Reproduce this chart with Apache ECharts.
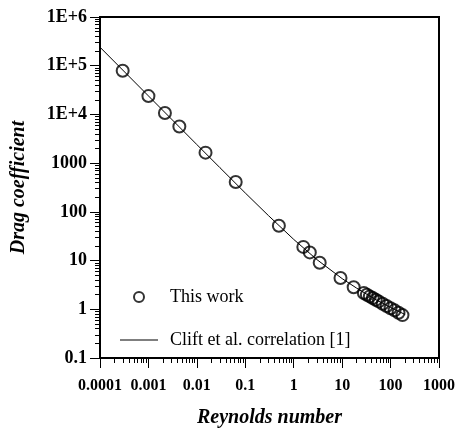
<!DOCTYPE html>
<html><head><meta charset="utf-8">
<script src="https://cdn.jsdelivr.net/npm/echarts@6/dist/echarts.min.js"></script>
<style>html,body{margin:0;padding:0;background:#fff}#c{width:458px;height:433px}</style>
</head><body><div id="c"></div>
<script>
// Measured points ("This work")
const reynoldsMeasured = [0.000294, 0.001, 0.00219, 0.00435, 0.0151, 0.0634, 0.494, 1.58, 2.15, 3.44, 9.25, 17.3,
  28.1, 32.4, 37.3, 42.9, 49.4, 56.9, 68.7, 82.8, 100, 121, 146, 176];
const dragMeasured = [79000, 23800, 10700, 5670, 1644, 410, 52, 19.1, 14.7, 9.0, 4.4, 2.84,
  2.16, 1.99, 1.84, 1.70, 1.57, 1.45, 1.30, 1.17, 1.05, 0.95, 0.85, 0.76];
// Clift et al. correlation curve
const reynoldsClift = [0.0001, 0.001, 0.01, 0.03, 0.1, 0.3, 1, 3, 10, 20, 50, 100, 200];
const dragClift = [240000, 24000, 2405, 806, 244, 84, 27.2, 10.5, 4.26, 2.71, 1.57, 1.09, 0.78];
// Tick labels
const xTickValues = [0.0001, 0.001, 0.01, 0.1, 1, 10, 100, 1000];
const xTickLabels = ['0.0001', '0.001', '0.01', '0.1', '1', '10', '100', '1000'];
const yTickValues = [0.1, 1, 10, 100, 1000, 10000, 100000, 1000000];
const yTickLabels = ['0.1', '1', '10', '100', '1000', '1E+4', '1E+5', '1E+6'];
const seriesNames = ['This work', 'Clift et al. correlation [1]'];

function labelFor(values, labels) {
  return function (v) {
    const lv = Math.log10(v);
    for (let i = 0; i < values.length; i++) {
      if (Math.abs(Math.log10(values[i]) - lv) < 1e-6) return labels[i];
    }
    return '';
  };
}
// minor tick positions (2..9 within each decade), expressed as decade exponents
function minorTickExponents(values) {
  const out = [];
  for (let i = 0; i < values.length - 1; i++) {
    for (let k = 2; k <= 9; k++) out.push(Math.log10(values[i] * k));
  }
  return out;
}

const serif = 'Liberation Serif, Times New Roman, serif';
const xMin = xTickValues[0], xMax = xTickValues[xTickValues.length - 1];
const yMin = yTickValues[0], yMax = yTickValues[yTickValues.length - 1];

const chart = echarts.init(document.getElementById('c'), null, { renderer: 'canvas' });
chart.setOption({
  animation: false,
  backgroundColor: '#fff',
  grid: { left: 100, right: 15, top: 17, bottom: 72, show: true, borderColor: '#000', borderWidth: 2, backgroundColor: 'transparent' },
  legend: {
    orient: 'vertical', left: 120, top: 288, padding: 0,
    itemWidth: 38, itemHeight: 10, itemGap: 25, selectedMode: false,
    data: [{ name: seriesNames[0] }, { name: seriesNames[1], icon: 'path://M0,0H38V1H0Z', itemStyle: { color: '#000', opacity: 1 } }],
    textStyle: { fontFamily: serif, fontSize: 18, color: '#000', lineHeight: 18, padding: [0, 0, 0, 7] }
  },
  xAxis: [{
    type: 'log', logBase: 10, min: xMin, max: xMax, position: 'bottom',
    name: 'Reynolds number', nameLocation: 'middle', nameGap: 50,
    nameTextStyle: { fontFamily: serif, fontSize: 20, fontStyle: 'italic', fontWeight: 'bold', color: '#000' },
    axisLine: { show: true, onZero: false, lineStyle: { color: '#000', width: 2 } },
    axisTick: { show: true, inside: false, length: 10, lineStyle: { color: '#000', width: 1 } },
    axisLabel: { formatter: labelFor(xTickValues, xTickLabels), margin: 20, color: '#000', fontFamily: serif, fontWeight: 'bold', fontSize: 16, showMinLabel: true, showMaxLabel: true },
    splitLine: { show: false }
  }, {
    type: 'value', min: Math.log10(xMin), max: Math.log10(xMax), position: 'bottom',
    axisLine: { show: false, onZero: false }, axisLabel: { show: false }, splitLine: { show: false },
    axisTick: { show: true, inside: false, length: 5, customValues: minorTickExponents(xTickValues), lineStyle: { color: '#000', width: 1 } }
  }],
  yAxis: [{
    type: 'log', logBase: 10, min: yMin, max: yMax, position: 'left',
    name: 'Drag coefficient', nameLocation: 'middle', nameGap: 71,
    nameTextStyle: { fontFamily: serif, fontSize: 20, fontStyle: 'italic', fontWeight: 'bold', color: '#000' },
    axisLine: { show: true, onZero: false, lineStyle: { color: '#000', width: 2 } },
    axisTick: { show: true, inside: false, length: 10, lineStyle: { color: '#000', width: 1 } },
    axisLabel: { formatter: labelFor(yTickValues, yTickLabels), margin: 13, color: '#000', fontFamily: serif, fontWeight: 'bold', fontSize: 18, showMinLabel: true, showMaxLabel: true },
    splitLine: { show: false }
  }, {
    type: 'value', min: Math.log10(yMin), max: Math.log10(yMax), position: 'left',
    axisLine: { show: false, onZero: false }, axisLabel: { show: false }, splitLine: { show: false },
    axisTick: { show: true, inside: false, length: 5, customValues: minorTickExponents(yTickValues), lineStyle: { color: '#000', width: 1 } }
  }],
  series: [{
    name: seriesNames[0], type: 'scatter', xAxisIndex: 0, yAxisIndex: 0,
    data: reynoldsMeasured.map((x, i) => [x, dragMeasured[i]]),
    symbol: 'circle', symbolSize: 12, z: 3,
    itemStyle: { color: 'rgba(0,0,0,0)', borderColor: '#000', borderWidth: 2 },
    emphasis: { disabled: true }
  }, {
    name: seriesNames[1], type: 'line', xAxisIndex: 0, yAxisIndex: 0,
    data: reynoldsClift.map((x, i) => [x, dragClift[i]]),
    symbol: 'none', showSymbol: false, z: 2,
    lineStyle: { color: '#000', width: 1 }, itemStyle: { color: '#000' },
    emphasis: { disabled: true }
  }]
});
</script></body></html>
